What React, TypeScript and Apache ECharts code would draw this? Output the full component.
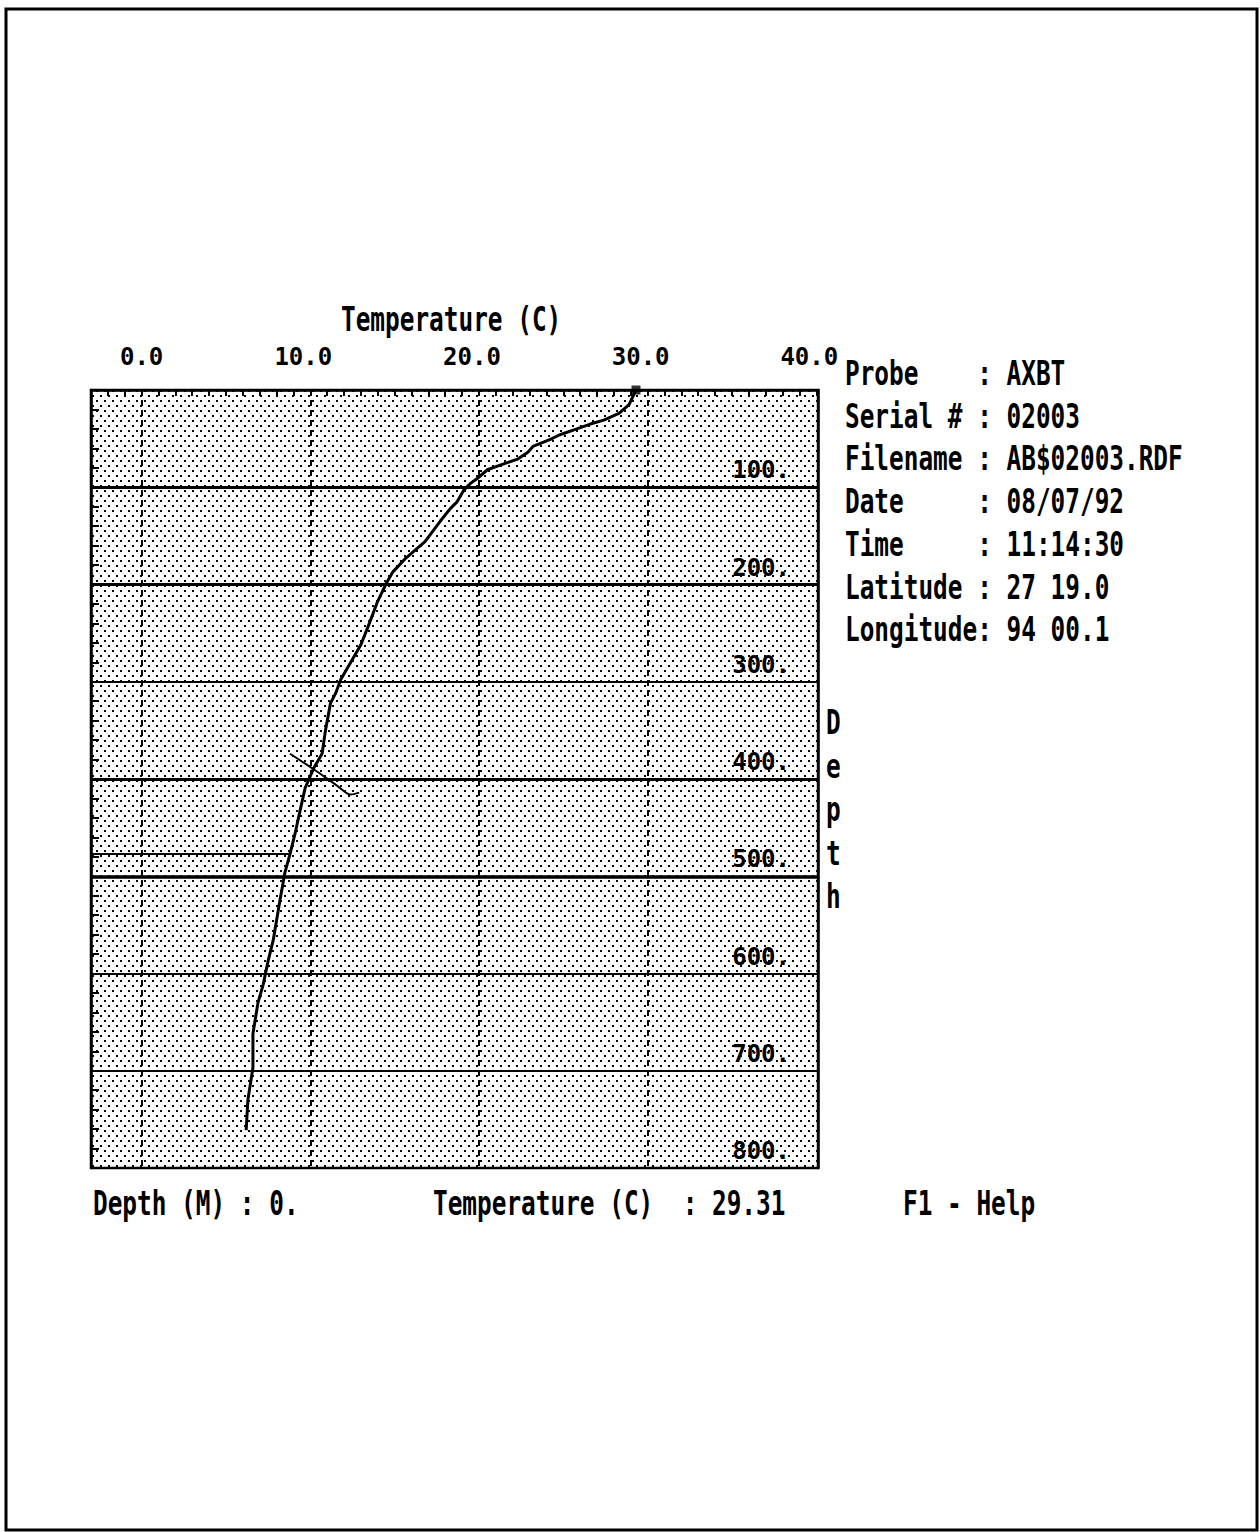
import React, { useEffect, useRef } from "react";
import * as echarts from "echarts";

// Temperature (C) vs depth (m) profile
const profileTemp = [29.31, 28.9, 28.3, 27.4, 26.6, 25.8, 24.8, 24.2, 23.2, 22.9, 22.3, 21.3, 20.5, 19.9, 19.5, 19.1, 18.7, 18.3, 17.7, 16.8, 15.6, 14.9, 14.5, 14.0, 13.5, 13.0, 12.4, 11.8, 11.5, 11.2, 10.9, 10.7, 10.2, 9.7, 9.4, 9.1, 8.8, 8.5, 8.2, 7.8, 7.5, 7.2, 6.9, 6.6, 6.6, 6.3, 6.2];
const profileDepth = [0, 15, 24, 31, 35, 40, 46, 51, 58, 64, 71, 77, 82, 91, 96, 103, 115, 122, 135, 156, 174, 187, 199, 217, 240, 262, 280, 298, 312, 322, 350, 374, 389, 409, 432, 456, 477, 496, 525, 566, 587, 612, 630, 662, 697, 730, 761];

// cursor cross mark
const crossTemp = [8.8, 10.2, 11.6, 12.4, 12.9];
const crossDepth = [374, 390, 407, 416, 414];

// horizontal marker line
const markerTemp = [-3, 8.8];
const markerDepth = [477, 477];

const tempGrid = [0, 10, 20, 30];
const depthGrid = [100, 200, 300, 400, 500, 600, 700];
const depthGridWidths = [3, 3, 2, 3, 3.5, 2, 2];

const infoLines = [
  "Probe    : AXBT",
  "Serial # : 02003",
  "Filename : AB$02003.RDF",
  "Date     : 08/07/92",
  "Time     : 11:14:30",
  "Latitude : 27 19.0",
  "Longitude: 94 00.1",
];
const depthLetters = ["D", "e", "p", "t", "h"];

const FONT = "'DejaVu Sans Mono', 'Liberation Mono', monospace";

function tx(text: string, x: number, y: number, size = 24.4, sy = 1.4, align = "left") {
  return {
    type: "group",
    x,
    y,
    scaleY: sy,
    children: [
      {
        type: "text",
        x: 0,
        y: 0,
        style: {
          text,
          fill: "#000",
          font: `bold ${size}px ${FONT}`,
          textAlign: align,
          textVerticalAlign: "middle",
        },
      },
    ],
  };
}

export default function App() {
  const ref = useRef<HTMLDivElement>(null);
  useEffect(() => {
    if (!ref.current) return;
    const chart = echarts.init(ref.current, undefined, { renderer: "svg" });

    const cv = document.createElement("canvas");
    cv.width = 8;
    cv.height = 10;
    const ctx = cv.getContext("2d")!;
    ctx.fillStyle = "#ffffff";
    ctx.fillRect(0, 0, 8, 10);
    ctx.fillStyle = "#000000";
    ctx.fillRect(0, 0, 2, 2);
    ctx.fillRect(4, 5, 2, 2);

    const profile = profileTemp.map((t, i) => [t, profileDepth[i]]);
    const cross = crossTemp.map((t, i) => [t, crossDepth[i]]);
    const marker = markerTemp.map((t, i) => [t, markerDepth[i]]);

    const infoGraphics = infoLines.map((l, i) => tx(l, 845, 373 + i * 42.7));

    const option: any = {
      animation: false,
      backgroundColor: "#fff",
      grid: {
        left: 91,
        top: 390,
        width: 727,
        height: 778,
        show: true,
        backgroundColor: { image: cv, repeat: "repeat" },
        borderColor: "#000",
        borderWidth: 2.5,
      },
      xAxis: {
        type: "value",
        position: "top",
        min: -3,
        max: 40.1,
        interval: 1,
        axisLine: { show: true, onZero: false, lineStyle: { color: "#000", width: 2.5 } },
        axisTick: { show: true, inside: true, length: 6, lineStyle: { color: "#000", width: 2 } },
        splitLine: { show: false },
        axisLabel: {
          show: true,
          margin: 16,
          color: "#000",
          fontFamily: FONT,
          fontWeight: "bold",
          fontSize: 24,
          formatter: (v: number) => {
            if (Math.abs(v % 10) > 1e-6) return "";
            const s = v.toFixed(1);
            return v === 0 ? `{z|${s}}` : `{n|${s}}`;
          },
          rich: {
            z: { fontFamily: FONT, fontWeight: "bold", fontSize: 24, color: "#000", lineHeight: 34 },
            n: { fontFamily: FONT, fontWeight: "bold", fontSize: 24, color: "#000", lineHeight: 34, padding: [0, 14, 0, 0] },
          },
        },
      },
      yAxis: [
        {
          type: "value",
          position: "right",
          inverse: true,
          min: 0,
          max: 800,
          interval: 100,
          axisLine: { show: true, onZero: false, lineStyle: { color: "#000", width: 2.5 } },
          axisTick: { show: false },
          splitLine: { show: false },
          axisLabel: {
            show: true,
            inside: true,
            margin: 28,
            color: "#000",
            fontFamily: FONT,
            fontWeight: "bold",
            fontSize: 24,
            verticalAlign: "bottom",
            lineHeight: 34,
            formatter: (v: number) => (v === 0 ? "" : `${v}.`),
          },
        },
        {
          type: "value",
          position: "left",
          inverse: true,
          min: 0,
          max: 800,
          interval: 20,
          axisLine: { show: true, onZero: false, lineStyle: { color: "#000", width: 2.5 } },
          axisTick: { show: true, inside: true, length: 8, lineStyle: { color: "#000", width: 2 } },
          splitLine: { show: false },
          axisLabel: { show: false },
        },
      ],
      graphic: [
        {
          type: "rect",
          shape: { x: 6, y: 9, width: 1251, height: 1521 },
          style: { fill: "none", stroke: "#000", lineWidth: 3 },
          silent: true,
        },
        tx("Temperature (C)", 341, 319),
        ...infoGraphics,
        ...depthLetters.map((c, i) => tx(c, 826, 722 + i * 43.5)),
        tx("Depth (M) : 0.", 93, 1203),
        tx("Temperature (C)  : 29.31", 433, 1203),
        tx("F1 - Help", 903, 1203),
      ],
      series: [
        {
          type: "line",
          data: [],
          z: 1,
          silent: true,
          markLine: {
            silent: true,
            symbol: "none",
            label: { show: false },
            data: [
              ...depthGrid.map((d, i) => ({ yAxis: d, lineStyle: { color: "#000", width: depthGridWidths[i], type: "solid" } })),
              ...tempGrid.map((t) => ({ xAxis: t, lineStyle: { color: "#000", width: 2, type: [6, 4] } })),
            ],
          },
        },
        {
          type: "line",
          data: profile,
          showSymbol: false,
          symbol: "none",
          z: 3,
          lineStyle: { color: "#000", width: 3 },
        },
        {
          type: "scatter",
          data: [profile[0]],
          symbol: "rect",
          symbolSize: 9,
          z: 4,
          itemStyle: { color: "#000" },
        },
        {
          type: "line",
          data: cross,
          symbol: "none",
          smooth: 0.3,
          z: 3,
          lineStyle: { color: "#000", width: 2 },
        },
        {
          type: "line",
          data: marker,
          symbol: "none",
          z: 3,
          lineStyle: { color: "#000", width: 2 },
        },
      ],
    };
    chart.setOption(option);
    return () => chart.dispose();
  }, []);
  return (
    <div
      ref={ref}
      style={{ position: "absolute", left: 0, top: 0, width: 1260, height: 1532 }}
    />
  );
}
